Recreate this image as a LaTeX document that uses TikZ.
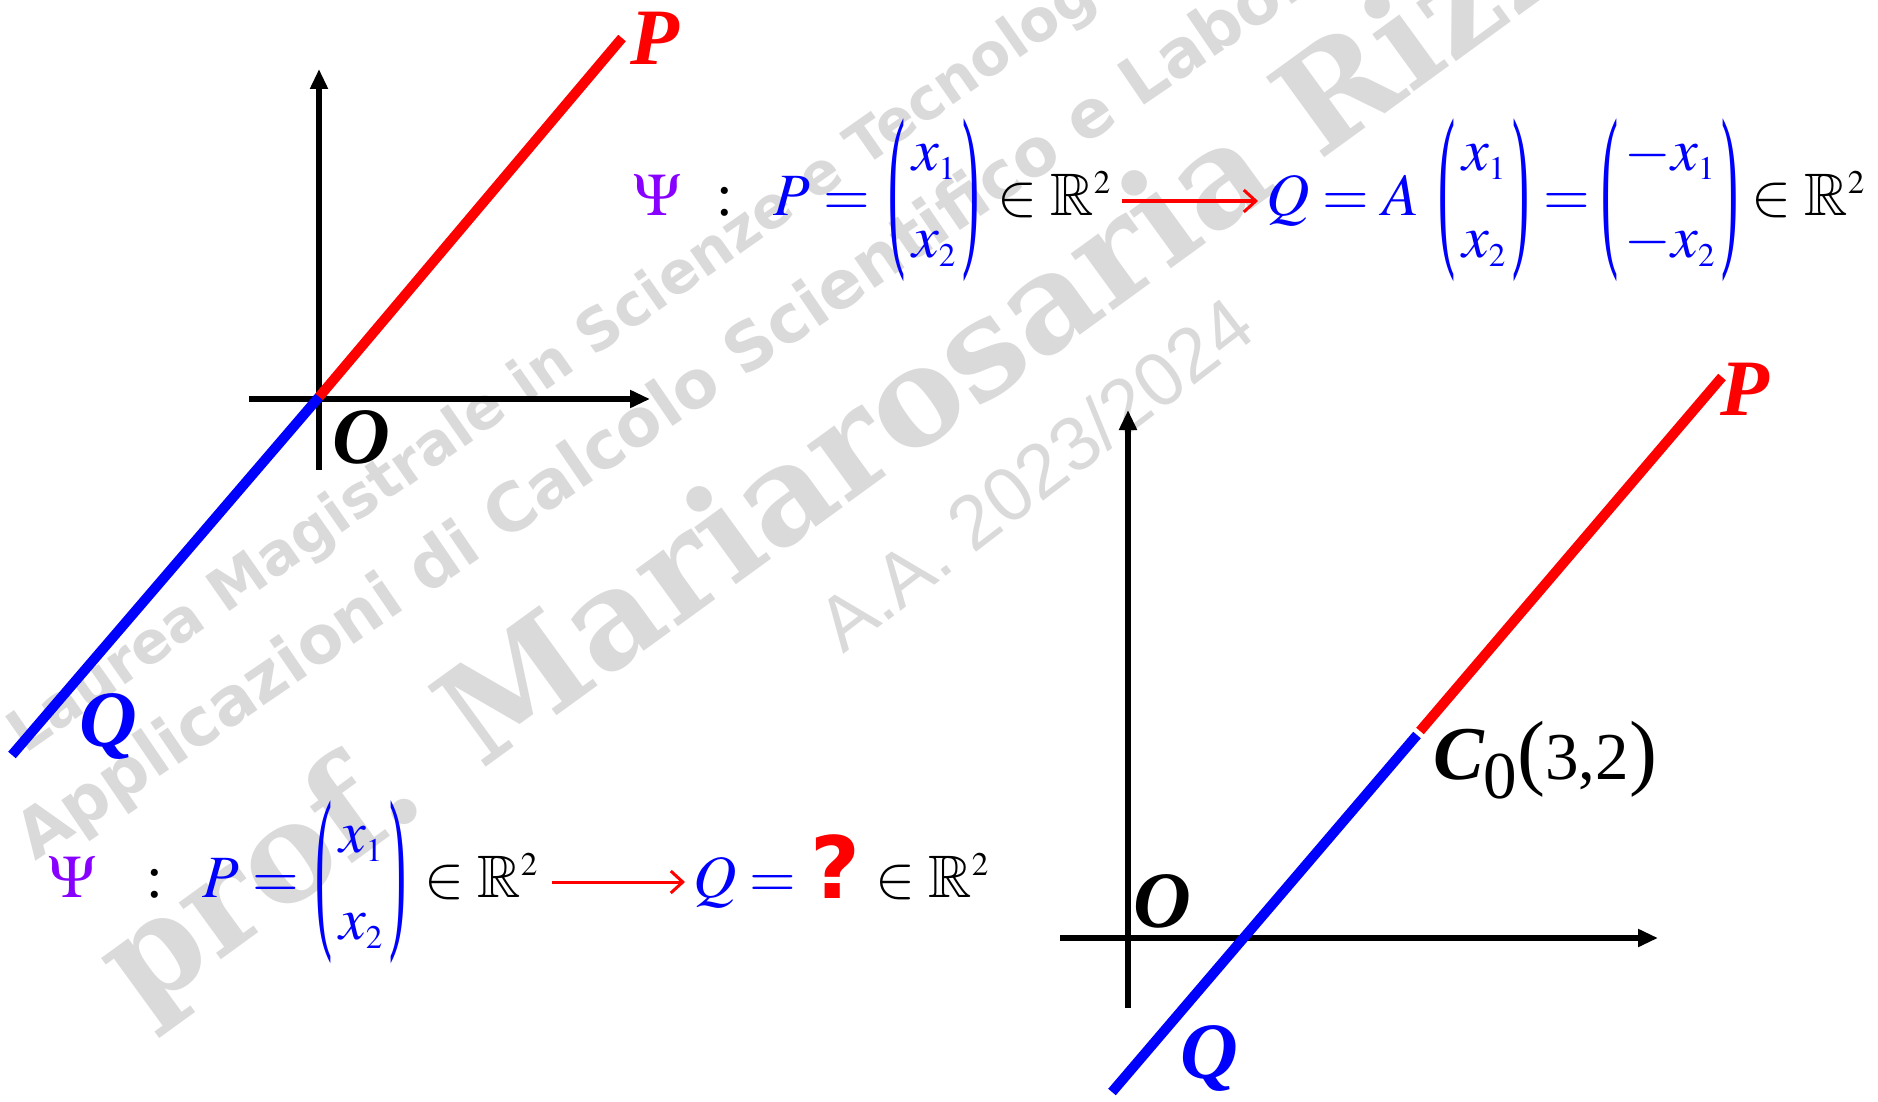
\documentclass[tikz,border=0pt]{standalone}
\usepackage{mathptmx}
\usepackage{amssymb}
\usepackage{graphicx}
\usepackage{fontspec}
\setmainfont{Liberation Serif}
\newfontfamily\wmsans{DejaVu Sans}
\newfontfamily\wmserif{DejaVu Serif}
\newfontfamily\wmthin{Liberation Sans}
\newfontfamily\qmfont{DejaVu Sans}
\usetikzlibrary{arrows.meta}
\renewcommand\defaultscriptratio{.55}
\renewcommand\defaultscriptscriptratio{.45}
\definecolor{wm}{RGB}{218,218,218}
\definecolor{psi}{RGB}{136,0,255}
\tikzset{
  ax/.style={line width=5.5pt, -{Triangle[length=20pt,width=17pt]}},
  seg/.style={line width=10pt},
  lbl/.style={inner sep=0pt, font=\fontsize{80}{90}\selectfont\bfseries\itshape},
  fm/.style={inner sep=0pt, font=\fontsize{60}{72}\selectfont},
  marr/.style={red, line width=3pt, -{Straight Barb[length=12pt,width=22pt]}},
  wmark/.style={text=wm, inner sep=0pt, anchor=base west},
}
\newcommand{\tallparen}[1]{\vcenter{\hbox{\fontsize{60}{72}\selectfont\scalebox{0.85}[3.0]{#1}}}}
\newcommand{\vecx}[2]{\tallparen{(}\,\begin{array}{@{}c@{}} #1\\[15pt] #2\end{array}\,\tallparen{)}}
\begin{document}
\begin{tikzpicture}[x=1pt,y=-1pt]
\path[use as bounding box, fill=white] (0,0) rectangle (1878,1102);
% watermark
\begin{scope}
\clip (0,0) rectangle (1878,1102);
\node[wmark, rotate=35, font={\wmsans\fontsize{58}{66}\selectfont\bfseries}] (wm1) at (25,755) {Laurea Magistrale in Scienze e Tecnologie};
\node[wmark, rotate=34.3, font={\wmsans\fontsize{66}{74}\selectfont\bfseries}] (wm2) at (35,862) {Applicazioni di Calcolo Scientifico e Laboratorio};
\node[wmark, rotate=36, font={\wmserif\fontsize{136}{146}\selectfont\bfseries}] (wm3) at (140,1018) {prof. Mariarosaria Rizzardi};
\node[wmark, rotate=37.5, font={\wmthin\fontsize{76}{80}\selectfont}] (wm4) at (843,655) {A.A. 2023/2024};
\end{scope}
% top-left figure
\coordinate (v1b) at (319,470); \coordinate (v1t) at (319,69);
\coordinate (h1l) at (249,399); \coordinate (h1r) at (650,399);
\coordinate (o1) at (319,397); \coordinate (p1) at (622,38); \coordinate (q1) at (12,755);
\draw[ax] (v1b) -- (v1t);
\draw[ax] (h1l) -- (h1r);
\draw[seg, red] (o1) -- (p1);
\draw[seg, blue] (o1) -- (q1);
\node[lbl, text=red] (P1) at (655,38) {P};
\node[lbl, text=blue] (Q1) at (108,726) {Q};
\node[lbl] (O1) at (361,437) {O};
% bottom-right figure
\coordinate (v2b) at (1128,1008); \coordinate (v2t) at (1128,410);
\coordinate (h2l) at (1060,938); \coordinate (h2r) at (1658,938);
\coordinate (q2) at (1112,1092); \coordinate (c2a) at (1417,735);
\coordinate (c2b) at (1420,731); \coordinate (p2) at (1722,377);
\draw[ax] (v2b) -- (v2t);
\draw[ax] (h2l) -- (h2r);
\draw[seg, blue] (q2) -- (c2a);
\draw[seg, red] (c2b) -- (p2);
\node[lbl, text=red] (P2) at (1745,389) {P};
\node[lbl, text=blue] (Q2) at (1209,1058) {Q};
\node[lbl] (O2) at (1162,901) {O};
\node[inner sep=0pt, anchor=base west] (C0) at (1433,779) {{\fontsize{76}{80}\selectfont\bfseries\itshape C}{\fontsize{67}{70}\selectfont\raisebox{-19pt}{0}{\fontsize{84}{90}\selectfont(}3,2{\fontsize{84}{90}\selectfont)}}};
% top formula
\node[fm, anchor=base west, text=psi] (psiA) at (633,215) {$\Psi$};
\node[fm, anchor=base west] (colA) at (716,215) {:};
\node[fm, anchor=base west, text=blue] (PA) at (773,215) {$P=$};
\node[fm, text=blue] (mA) at (934,200) {$\vecx{x_1}{x_2}$};
\node[fm, anchor=base west] (inA) at (997,215) {$\in\mathbb{R}^2$};
\coordinate (a1s) at (1122,201); \coordinate (a1e) at (1258,201);
\draw[marr] (a1s) -- (a1e);
\node[fm, anchor=base west, text=blue] (QA) at (1266,215) {$Q=A$};
\node[fm, text=blue] (mB) at (1484,200) {$\vecx{x_1}{x_2}$};
\node[fm, anchor=base west, text=blue] (eqA) at (1543,215) {$=$};
\node[fm, text=blue] (mC) at (1670,200) {$\vecx{-x_1}{-x_2}$};
\node[fm, anchor=base west] (inB) at (1751,215) {$\in\mathbb{R}^2$};
% bottom formula
\node[fm, anchor=base west, text=psi] (psiB) at (48,897) {$\Psi$};
\node[fm, anchor=base west] (colB) at (146,897) {:};
\node[fm, anchor=base west, text=blue] (PB) at (202,897) {$P=$};
\node[fm, text=blue] (mD) at (361,882) {$\vecx{x_1}{x_2}$};
\node[fm, anchor=base west] (inC) at (424,897) {$\in\mathbb{R}^2$};
\coordinate (a2s) at (552,882); \coordinate (a2e) at (685,882);
\draw[marr] (a2s) -- (a2e);
\node[fm, anchor=base west, text=blue] (QB) at (693,897) {$Q=$};
\node[anchor=base west, inner sep=0pt, text=red, font={\qmfont\fontsize{86}{96}\selectfont\bfseries}] (qm) at (810,898) {?};
\node[fm, anchor=base west] (inD) at (875,897) {$\in\mathbb{R}^2$};
\end{tikzpicture}
\end{document}
